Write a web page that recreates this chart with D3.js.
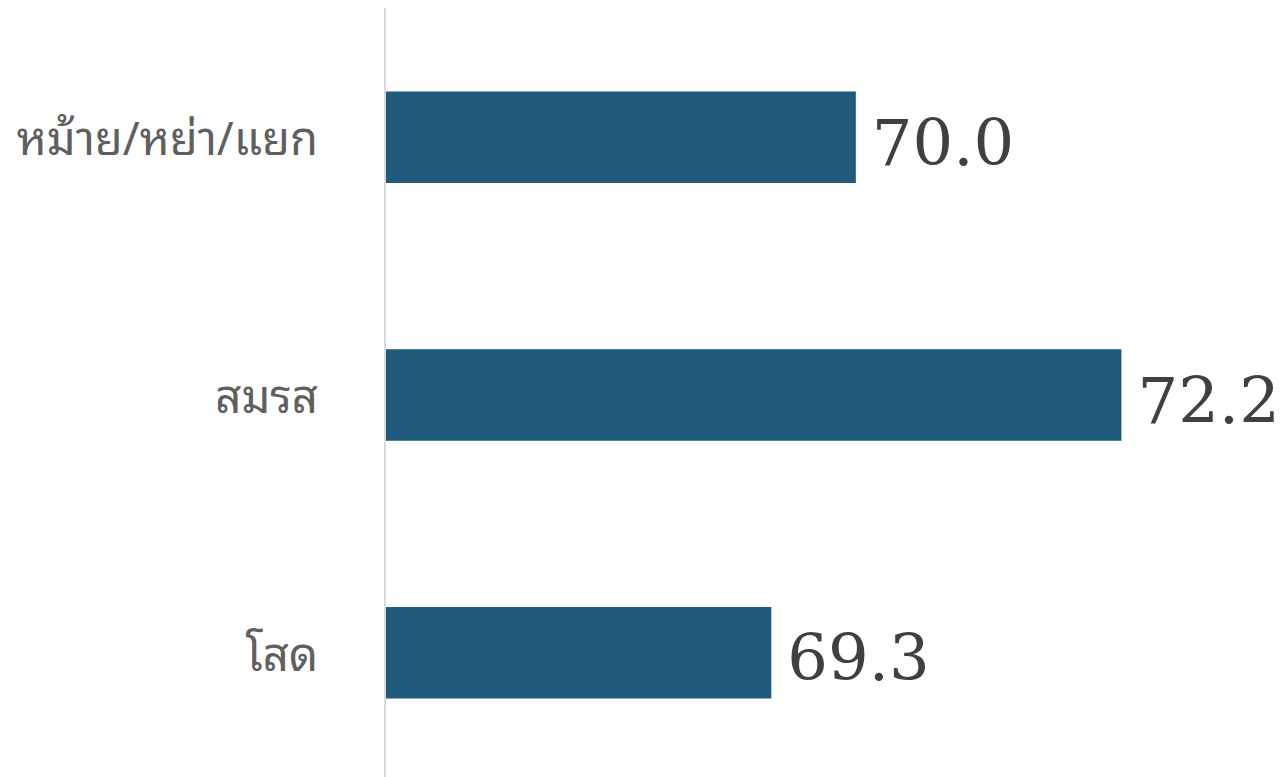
<!DOCTYPE html>
<html>
<head>
<meta charset="utf-8">
<script src="https://cdn.jsdelivr.net/npm/d3@7"></script>
<style>
  html, body { margin: 0; padding: 0; background: #ffffff; }
  svg { display: block; }
</style>
</head>
<body>
<svg id="chart" width="1282" height="777"></svg>
<script>
// Marital status categories, top to bottom
const categories = ["หม้าย/หย่า/แยก", "สมรส", "โสด"];
// Value for each category
const values = [70.0, 72.2, 69.3];
// Text shown at the end of each bar
const valueLabels = ["70.0", "72.2", "69.3"];

const data = categories.map((c, i) => ({ category: c, value: values[i], label: valueLabels[i] }));

const svg = d3.select("#chart");
const W = 1282, H = 777;
const axisX = 385;

const x = d3.scaleLinear()
  .domain([66.1, 73])
  .range([axisX, 1218]);

const y = d3.scaleBand()
  .domain(categories)
  .range([9, 781])
  .paddingInner(0.645)
  .paddingOuter(0.32);

// Bars
svg.append("g")
  .selectAll("rect")
  .data(data)
  .join("rect")
  .attr("x", axisX)
  .attr("y", d => y(d.category))
  .attr("width", d => x(d.value) - axisX)
  .attr("height", y.bandwidth())
  .attr("fill", "#1f5a7c");

// Vertical category axis line
svg.append("line")
  .attr("x1", axisX).attr("x2", axisX)
  .attr("y1", 8).attr("y2", H)
  .attr("stroke", "#d9d9d9")
  .attr("stroke-width", 2);

// Category labels
const yAxis = d3.axisLeft(y).tickSize(0).tickPadding(67);
const gy = svg.append("g")
  .attr("transform", `translate(${axisX},0)`)
  .call(yAxis);
gy.select(".domain").remove();
gy.selectAll("text")
  .attr("font-family", "'Noto Sans Thai Looped', 'Noto Serif Thai', 'Noto Sans Thai', Tahoma, 'Noto Sans', sans-serif")
  .attr("font-size", 45.5)
  .attr("fill", "#5f5f5f")
  .attr("dy", "0.4em");

// Value labels
svg.append("g")
  .selectAll("text")
  .data(data)
  .join("text")
  .attr("x", d => x(d.value) + 16)
  .attr("y", d => y(d.category) + y.bandwidth() / 2)
  .attr("dy", "0.43em")
  .attr("font-family", "'DejaVu Serif', Georgia, serif")
  .attr("font-size", 64)
  .attr("fill", "#404040")
  .text(d => d.label);
</script>
</body>
</html>
